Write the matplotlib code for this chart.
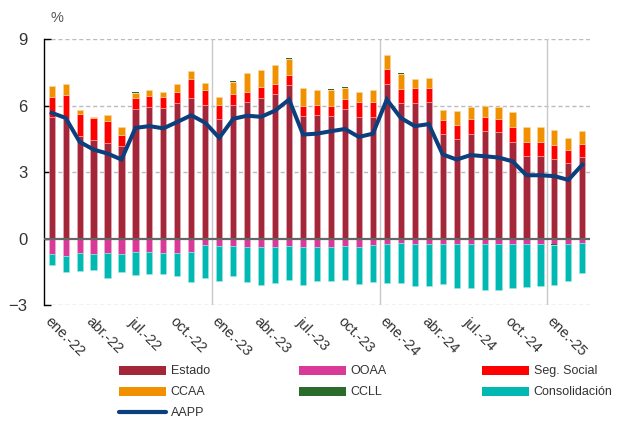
import matplotlib
matplotlib.use("Agg")
import matplotlib.pyplot as plt
from matplotlib.patches import Patch
from matplotlib.lines import Line2D
from matplotlib import font_manager
import numpy as np

# ---------------- data ----------------
months = ["ene.", "feb.", "mar.", "abr.", "may.", "jun.", "jul.", "ago.", "sep.", "oct.", "nov.", "dic."]
years = ["22", "23", "24", "25"]
periods = [f"{m}-{y}" for y in years for m in months][:39]  # ene.-22 .. mar.-25

estado = [5.48, 5.41, 4.65, 4.47, 4.32, 4.20, 5.86, 5.95, 5.90, 6.13, 6.36, 6.05,
          5.41, 6.04, 6.17, 6.36, 6.54, 6.93, 5.54, 5.57, 5.54, 5.86, 5.50, 5.50,
          7.00, 6.13, 6.13, 6.16, 4.73, 4.52, 4.73, 4.86, 4.82, 4.37, 3.72, 3.72,
          3.58, 3.42, 3.69]
seg_social = [0.91, 1.07, 0.97, 0.98, 0.98, 0.50, 0.51, 0.51, 0.49, 0.48, 0.84, 0.64,
              0.61, 0.47, 0.46, 0.48, 0.46, 0.46, 0.47, 0.45, 0.44, 0.44, 0.66, 0.66,
              0.65, 0.62, 0.65, 0.63, 0.63, 0.62, 0.65, 0.64, 0.60, 0.65, 0.62, 0.62,
              0.64, 0.60, 0.60]
ccaa = [0.48, 0.49, 0.19, 0.02, 0.29, 0.33, 0.21, 0.23, 0.21, 0.38, 0.35, 0.34,
        0.38, 0.57, 0.87, 0.77, 0.82, 0.74, 0.78, 0.67, 0.72, 0.51, 0.48, 0.56,
        0.62, 0.69, 0.43, 0.47, 0.47, 0.64, 0.57, 0.51, 0.51, 0.69, 0.68, 0.69,
        0.70, 0.51, 0.57]
ccll = [0.0, 0.0, 0.0, 0.0, 0.0, 0.0, 0.06, 0.0, 0.0, 0.0, 0.0, 0.0,
        0.0, 0.03, 0.0, 0.0, 0.0, 0.03, 0.0, 0.0, 0.05, 0.03, 0.0, 0.0,
        0.0, 0.02, 0.0, 0.0, 0.0, 0.0, 0.0, 0.0, 0.0, 0.0, 0.0, 0.0,
        -0.04, 0.0, 0.0]
ooaa = [-0.69, -0.77, -0.66, -0.69, -0.66, -0.69, -0.62, -0.62, -0.66, -0.66, -0.60, -0.30,
        -0.35, -0.33, -0.39, -0.39, -0.38, -0.35, -0.38, -0.38, -0.38, -0.35, -0.38, -0.27,
        -0.24, -0.21, -0.23, -0.23, -0.23, -0.24, -0.23, -0.24, -0.26, -0.23, -0.23, -0.24,
        -0.24, -0.24, -0.21]
consolidacion = [-0.52, -0.75, -0.79, -0.74, -1.10, -0.80, -1.02, -0.98, -0.95, -1.03, -1.36, -1.49,
                 -1.55, -1.34, -1.56, -1.71, -1.64, -1.54, -1.72, -1.55, -1.52, -1.54, -1.69, -1.69,
                 -1.77, -1.80, -1.90, -1.90, -1.81, -2.01, -1.99, -2.08, -2.06, -2.02, -1.94, -1.92,
                 -1.83, -1.68, -1.36]
aapp = [5.68, 5.45, 4.37, 4.02, 3.84, 3.57, 5.00, 5.08, 4.98, 5.27, 5.57, 5.23,
        4.55, 5.41, 5.55, 5.50, 5.78, 6.28, 4.70, 4.74, 4.85, 4.95, 4.59, 4.74,
        6.28, 5.45, 5.08, 5.17, 3.80, 3.57, 3.77, 3.72, 3.66, 3.49, 2.86, 2.86,
        2.82, 2.65, 3.34]

# ---------------- style ----------------
names = {f.name for f in font_manager.fontManager.ttflist}
FONT = "Liberation Sans Narrow" if "Liberation Sans Narrow" in names else "Liberation Sans"
plt.rcParams["font.family"] = [FONT, "DejaVu Sans"]

C_ESTADO = "#A32738"
C_OOAA = "#D93A98"
C_SS = "#FF0000"
C_CCAA = "#F29100"
C_CCLL = "#2B6B2B"
C_CONS = "#00B9B2"
C_AAPP = "#0B3F7D"
TXT = "#333333"

fig = plt.figure(figsize=(6.28, 4.23), dpi=100)
ax = fig.add_axes([0.0705, 0.279, 0.869, 0.628])

x = np.arange(len(periods))
w = 0.44
estado_a = np.array(estado)
ss_a = np.array(seg_social)
ccaa_a = np.array(ccaa)
ccll_a = np.array(ccll)
ooaa_a = np.array(ooaa)
cons_a = np.array(consolidacion)

ccll_pos = np.where(ccll_a > 0, ccll_a, 0)
ccll_neg = np.where(ccll_a < 0, ccll_a, 0)

kw = dict(width=w, linewidth=0.4, zorder=3)
ax.bar(x, estado_a, color=C_ESTADO, edgecolor="#e8b0b8", **kw)
ax.bar(x, ss_a, bottom=estado_a, color=C_SS, edgecolor="#ffb0b0", **kw)
ax.bar(x, ccaa_a, bottom=estado_a + ss_a, color=C_CCAA, edgecolor="#f8d8a0", **kw)
ax.bar(x, ccll_pos, bottom=estado_a + ss_a + ccaa_a, color=C_CCLL, linewidth=0, width=w, zorder=3)
ax.bar(x, ooaa_a, color=C_OOAA, edgecolor="#f0b0d8", **kw)
ax.bar(x, ccll_neg, bottom=ooaa_a, color=C_CCLL, linewidth=0, width=w, zorder=3)
ax.bar(x, cons_a, bottom=ooaa_a + ccll_neg, color=C_CONS, edgecolor="#a0e8e4", **kw)

ax.plot(x, aapp, color=C_AAPP, lw=2.9, zorder=5, solid_joinstyle="miter")

ax.set_xlim(-0.53, 38.55)
ax.set_ylim(-3, 9)

# grid and reference lines
for yv in [-3, 3, 6, 9]:
    ax.axhline(yv, color="#BBBBBB", lw=1.0, ls=(0, (3, 2)), zorder=1)
ax.axhline(0, color="#666666", lw=1.6, zorder=4)
for xv in [11.5, 23.5, 35.5]:
    ax.axvline(xv, color="#C8C8C8", lw=1.0, zorder=1)

for s in ["top", "right", "bottom"]:
    ax.spines[s].set_visible(False)
ax.spines["left"].set_color("black")
ax.spines["left"].set_linewidth(1.0)

ax.set_yticks([-3, 0, 3, 6, 9])
ax.tick_params(axis="y", direction="in", length=5, width=1, pad=12,
               labelsize=12, labelcolor=TXT)
tick_idx = list(range(0, len(periods), 3))
ax.set_xticks(tick_idx)
ax.set_xticklabels([periods[i] for i in tick_idx], rotation=-45, ha="left",
                   va="top", rotation_mode="anchor", fontsize=10.5, color=TXT)
ax.tick_params(axis="x", length=0, pad=7)

fig.text(0.081, 0.958, "%", fontsize=10.5, color="#555555", ha="left", va="center")

col1 = [Patch(facecolor=C_ESTADO, label="Estado"),
        Patch(facecolor=C_CCAA, label="CCAA"),
        Line2D([0], [0], color=C_AAPP, lw=3, solid_capstyle="round", label="AAPP")]
col2 = [Patch(facecolor=C_OOAA, label="OOAA"),
        Patch(facecolor=C_CCLL, label="CCLL")]
col3 = [Patch(facecolor=C_SS, label="Seg. Social"),
        Patch(facecolor=C_CONS, label="Consolidación")]

for hs, xa in [(col1, 0.189), (col2, 0.476), (col3, 0.767)]:
    leg = fig.legend(handles=hs, ncol=1, loc="upper left",
                     bbox_to_anchor=(xa, 0.136), bbox_transform=fig.transFigure,
                     frameon=False, fontsize=9, handlelength=3.8, handleheight=0.75,
                     handletextpad=0.35, labelspacing=0.72,
                     borderaxespad=0, borderpad=0)
    for t in leg.get_texts():
        t.set_color(TXT)

fig.savefig("out.png", dpi=100)
